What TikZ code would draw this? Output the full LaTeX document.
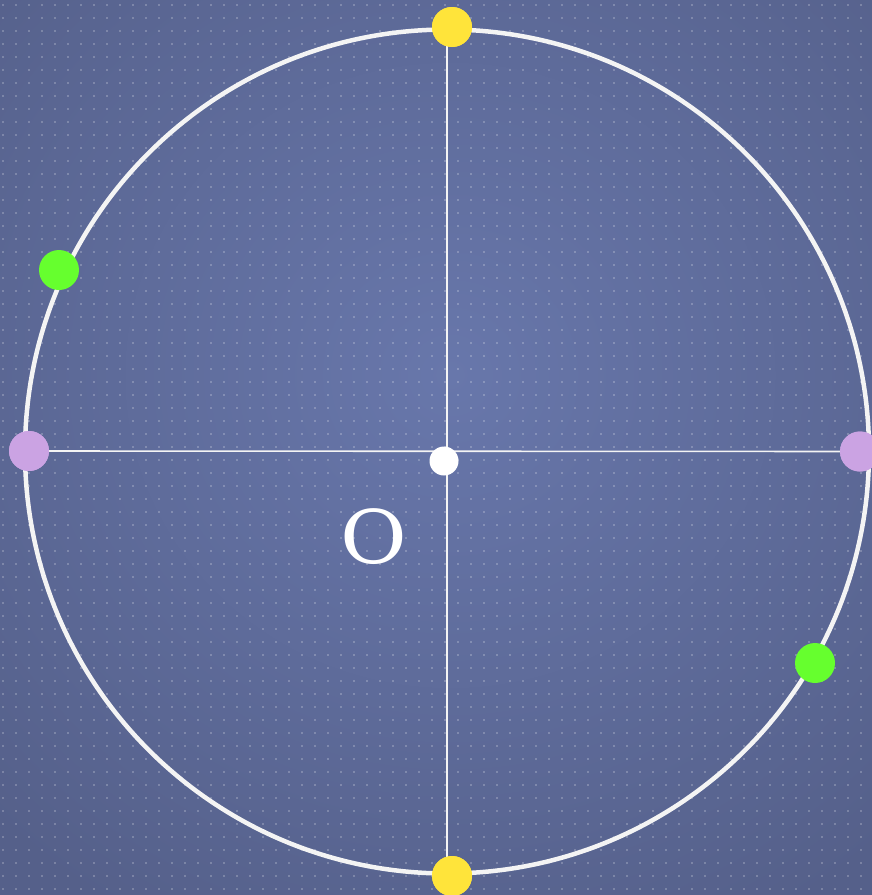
\documentclass[tikz,border=0pt]{standalone}
\usepackage{fontspec}
\setmainfont{DejaVu Serif}
\usepackage{tikz}
\usetikzlibrary{positioning,calc}
\definecolor{BoardBlue}{HTML}{5E6C9D}
\definecolor{BoardLight}{HTML}{6877AB}
\definecolor{BoardDark}{HTML}{55608A}
\definecolor{DotYellow}{HTML}{FFE43A}
\definecolor{DotGreen}{HTML}{66FF2E}
\definecolor{DotLilac}{HTML}{CBA3E3}
\definecolor{RingWhite}{HTML}{F4F4F4}
\tikzset{
    % Base dot style
    basedot/.style={
        circle,
        inner sep=0pt,
        minimum size=40pt
    },
    % Axis end dots
    yellowdot/.style={
        basedot,
        fill=DotYellow
    },
    lilacdot/.style={
        basedot,
        fill=DotLilac
    },
    % Moving dots
    greendot/.style={
        basedot,
        fill=DotGreen
    },
    % Centre dot
    centredot/.style={
        basedot,
        fill=white,
        minimum size=29pt
    },
    % Lines
    ringline/.style={
        draw=RingWhite,
        line width=4.5pt
    },
    axisline/.style={
        draw=RingWhite,
        line width=1.6pt
    },
    % Label
    biglabel/.style={
        text=white,
        font=\fontsize{74}{86}\selectfont,
        xscale=1.1
    }
}
\begin{document}
\begin{tikzpicture}[x=1pt, y=-1pt]
                % Background
                \useasboundingbox (0,0) rectangle (872,895);
                \clip (0,0) rectangle (872,895);
                \fill[BoardBlue] (0,0) rectangle (872,895);
                \shade[inner color=BoardLight, outer color=BoardDark] (-200,-250) rectangle (1100,1000);
                \foreach \i in {0,...,67}
                    \foreach \j in {0,...,68}
                        \fill[white, opacity=0.3] (3+13*\i, 5+13*\j) circle (1.1pt);

                % Circle and axes
                \coordinate (ctr) at (447,451.5);
                \coordinate (north) at (447,30);
                \coordinate (south) at (447,873);
                \coordinate (east) at (872,451.5);
                \draw[ringline] (ctr) circle (422pt);

                % Dots
                \node[yellowdot] (ytop) at (452,27) {};
                \node[yellowdot] (ybot) at (452,876) {};
                \node[lilacdot] (lleft) at (29,451) {};
                \node[lilacdot] (lright) at (860,451.5) {};

                \draw[axisline] (north) -- (south);
                \draw[axisline] (lleft.center) -- (east);

                \node[yellowdot] at (ytop) {};
                \node[yellowdot] at (ybot) {};
                \node[lilacdot] at (lleft) {};
                \node[lilacdot] at (lright) {};
                \node[greendot] (gup) at (59,270) {};
                \node[greendot] (gdown) at (815,663) {};
                \node[centredot] (origin) at (444,461) {};

                % Label
                \node[biglabel] (olabel) at (374,537) {O};
\end{tikzpicture}
\end{document}
